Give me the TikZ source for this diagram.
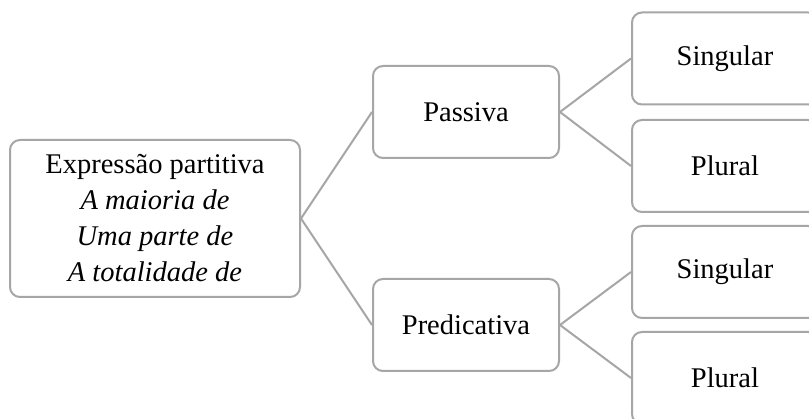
\documentclass[tikz,border=0pt]{standalone}
\usepackage{fontspec}
\setmainfont{Liberation Serif}
\definecolor{edge}{RGB}{166,166,166}
\begin{document}
\begin{tikzpicture}[x=1pt,y=-1pt,
  box/.style={draw=edge,line width=2pt,rounded corners=10pt,fill=white,
    minimum width=186pt,minimum height=92pt,inner sep=0pt,align=center,
    font=\fontsize{28.5}{36}\selectfont},
  link/.style={draw=edge,line width=2pt}]
\clip (0,0) rectangle (809,419);
\fill[white] (0,0) rectangle (809,419);
\node[box,minimum width=290pt,minimum height=157pt] (root) at (155,218.5)
  {Expressão partitiva\\\textit{A maioria de}\\\textit{Uma parte de}\\\textit{A totalidade de}};
\node[box] (pas) at (466,112) {Passiva};
\node[box] (pre) at (466,325) {Predicativa};
\node[box] (s1) at (725,58.5) {Singular};
\node[box] (p1) at (725,166) {Plural};
\node[box] (s2) at (725,272) {Singular};
\node[box] (p2) at (725,378) {Plural};
\draw[link] (root.east) -- (pas.west);
\draw[link] (root.east) -- (pre.west);
\draw[link] (pas.east) -- (s1.west);
\draw[link] (pas.east) -- (p1.west);
\draw[link] (pre.east) -- (s2.west);
\draw[link] (pre.east) -- (p2.west);
\end{tikzpicture}
\end{document}
